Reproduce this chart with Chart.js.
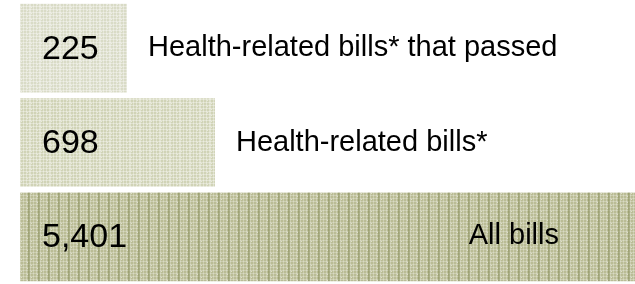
<!DOCTYPE html>
<html>
<head>
<meta charset="utf-8">
<script src="https://cdn.jsdelivr.net/npm/chart.js@4/dist/chart.umd.min.js"></script>
<style>
    body { margin: 0; background: #fff; }
    #wrap { position: relative; width: 635px; height: 284px; }
</style>
</head>
<body>
<div id="wrap"><canvas id="billsChart"></canvas></div>
<script>
// labels, counts and displayed bar lengths (the original bars are not to scale)
const categories = ["Health-related bills* that passed", "Health-related bills*", "All bills"];
const counts = [225, 698, 5401];
const barLength = [17.4, 31.7, 100];

const baseColors = ["#d9dbc6", "#d0d3b6", "#babc95"];

function makePattern(base, striped) {
    let c = document.createElement("canvas");
    c.width = 10;
    c.height = 6;
    let g = c.getContext("2d");
    g.fillStyle = base;
    g.fillRect(0, 0, 10, 6);
    // fine light grid
    g.fillStyle = striped ? "rgba(255,255,255,0.25)" : "rgba(255,255,255,0.35)";
    for (let i = 0; i < 10; i += 3) g.fillRect(i, 0, 1, 6);
    for (let j = 0; j < 6; j += 3) g.fillRect(0, j, 10, 1);
    g.fillStyle = "rgba(255,255,255,0.5)";
    g.fillRect(1, 1, 1, 1);
    g.fillRect(7, 4, 1, 1);
    if (striped) {
        g.fillStyle = "rgba(125,130,75,0.45)";
        g.fillRect(8, 0, 2, 6);
    }
    return g.createPattern(c, "repeat");
}

const textPlugin = {
    id: "barText",
    afterDatasetsDraw(chart) {
        let ctx = chart.ctx;
        let meta = chart.getDatasetMeta(0);
        let right = chart.chartArea.right;
        ctx.save();
        ctx.fillStyle = "#000";
        ctx.textBaseline = "middle";
        meta.data.forEach((bar, i) => {
            ctx.font = "34px 'Liberation Sans', Arial, sans-serif";
            ctx.textAlign = "left";
            ctx.fillText(counts[i].toLocaleString("en-US"), bar.base + 22, bar.y + 1);
            ctx.font = "29px 'Liberation Sans', Arial, sans-serif";
            let w = ctx.measureText(categories[i]).width;
            if (bar.x + 20 + w < right) {
                ctx.fillText(categories[i], bar.x + 21, bar.y);
            } else {
                ctx.textAlign = "right";
                ctx.fillText(categories[i], bar.x - 76, bar.y - 1);
            }
        });
        ctx.restore();
    }
};

let ctx = document.getElementById("billsChart").getContext("2d");

new Chart(ctx, {
    type: "bar",
    data: {
        labels: categories,
        datasets: [{
            data: barLength,
            backgroundColor: baseColors.map((c, i) => makePattern(c, i === 2)),
            borderWidth: 0,
            barPercentage: 1,
            categoryPercentage: 0.94
        }]
    },
    options: {
        indexAxis: "y",
        responsive: true,
        maintainAspectRatio: false,
        animation: false,
        layout: { padding: { left: 20, top: 1, right: 0, bottom: 0 } },
        plugins: {
            legend: { display: false },
            tooltip: { enabled: false }
        },
        scales: {
            x: { display: false, min: 0, max: 100 },
            y: { display: false }
        }
    },
    plugins: [textPlugin]
});
</script>
</body>
</html>
